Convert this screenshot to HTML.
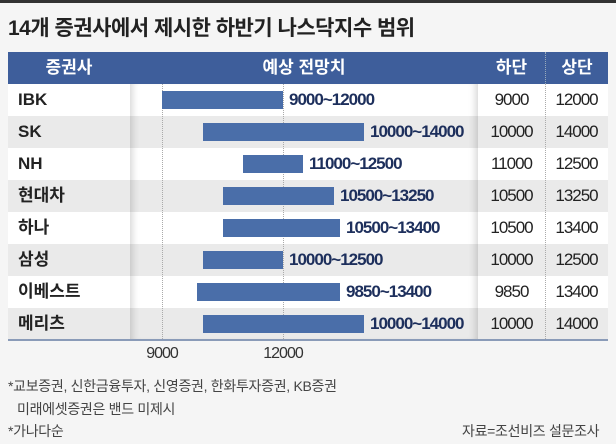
<!DOCTYPE html>
<html><head><meta charset="utf-8"><style>
*{margin:0;padding:0;box-sizing:border-box}
body{width:616px;height:444px;background:#f5f5f5;position:relative;overflow:hidden;font-family:"Liberation Sans","Noto Sans CJK KR",sans-serif;color:#222}
.a{position:absolute}
.title{left:8px;top:12px;font-size:21px;font-weight:bold;color:#222;letter-spacing:-0.5px}
.hdr{left:8px;top:52px;width:600px;height:32px;background:#3e5e9b}
.hdr div{position:absolute;top:0;height:32px;line-height:32px;color:#fff;font-size:17px;font-weight:bold;text-align:center}
.row{left:8px;width:600px;height:32px}
.nm{position:absolute;left:10px;font-size:17px;line-height:32px;font-weight:bold;color:#222}
.v{position:absolute;font-size:17px;line-height:32px;text-align:center;color:#222;letter-spacing:-1px}
.bar{position:absolute;height:18px;background:#4a6ea9}
.lb{position:absolute;font-size:17px;font-weight:bold;color:#1d2f5c;line-height:18px;letter-spacing:-1px}
.panel{left:130px;top:84px;width:348px;height:255px;box-shadow:inset 8px 0 8px -6px rgba(0,0,0,.18),inset -8px 0 8px -6px rgba(0,0,0,.18)}
.foot{font-size:14px;color:#444;letter-spacing:-0.3px}
</style></head><body>
<div class="a" style="left:0;top:0;width:616px;height:3px;background:#333"></div>
<div class="a title">14개 증권사에서 제시한 하반기 나스닥지수 범위</div>
<div class="a hdr">
<div style="left:0;width:122px">증권사</div>
<div style="left:122px;width:348px">예상 전망치</div>
<div style="left:470px;width:67px">하단</div>
<div style="left:537px;width:63px;border-left:1px dotted #9ab">상단</div>
</div>
<div class="a row" style="top:84px;background:#fff"></div>
<div class="a row" style="top:116px;background:#eaeaea"></div>
<div class="a row" style="top:148px;background:#fff"></div>
<div class="a row" style="top:180px;background:#eaeaea"></div>
<div class="a row" style="top:212px;background:#fff"></div>
<div class="a row" style="top:244px;background:#eaeaea"></div>
<div class="a row" style="top:276px;background:#fff"></div>
<div class="a row" style="top:308px;background:#eaeaea;height:31px"></div>
<div class="a panel"></div>
<div class="a" style="left:162px;top:84px;height:255px;border-left:1px dotted #aaa"></div>
<div class="a" style="left:283px;top:84px;height:255px;border-left:1px dotted #aaa"></div>
<div class="a" style="left:545px;top:84px;height:255px;border-left:1px dotted #aaa"></div>
<div class="a" style="left:8px;top:339px;width:600px;height:2px;background:#8a9bb8"></div>

<div class="a" style="left:8px;top:84px;width:600px">
<div style="position:relative;height:32px"><span class="nm">IBK</span><div class="bar" style="left:154px;top:7px;width:121px"></div><span class="lb" style="left:281px;top:7px">9000~12000</span><span class="v" style="left:470px;width:67px">9000</span><span class="v" style="left:537px;width:63px">12000</span></div>
<div style="position:relative;height:32px"><span class="nm">SK</span><div class="bar" style="left:195px;top:7px;width:161px"></div><span class="lb" style="left:362px;top:7px">10000~14000</span><span class="v" style="left:470px;width:67px">10000</span><span class="v" style="left:537px;width:63px">14000</span></div>
<div style="position:relative;height:32px"><span class="nm">NH</span><div class="bar" style="left:235px;top:7px;width:60px"></div><span class="lb" style="left:301px;top:7px">11000~12500</span><span class="v" style="left:470px;width:67px">11000</span><span class="v" style="left:537px;width:63px">12500</span></div>
<div style="position:relative;height:32px"><span class="nm">현대차</span><div class="bar" style="left:215px;top:7px;width:111px"></div><span class="lb" style="left:332px;top:7px">10500~13250</span><span class="v" style="left:470px;width:67px">10500</span><span class="v" style="left:537px;width:63px">13250</span></div>
<div style="position:relative;height:32px"><span class="nm">하나</span><div class="bar" style="left:215px;top:7px;width:117px"></div><span class="lb" style="left:338px;top:7px">10500~13400</span><span class="v" style="left:470px;width:67px">10500</span><span class="v" style="left:537px;width:63px">13400</span></div>
<div style="position:relative;height:32px"><span class="nm">삼성</span><div class="bar" style="left:195px;top:7px;width:80px"></div><span class="lb" style="left:281px;top:7px">10000~12500</span><span class="v" style="left:470px;width:67px">10000</span><span class="v" style="left:537px;width:63px">12500</span></div>
<div style="position:relative;height:32px"><span class="nm">이베스트</span><div class="bar" style="left:189px;top:7px;width:143px"></div><span class="lb" style="left:338px;top:7px">9850~13400</span><span class="v" style="left:470px;width:67px">9850</span><span class="v" style="left:537px;width:63px">13400</span></div>
<div style="position:relative;height:32px"><span class="nm">메리츠</span><div class="bar" style="left:195px;top:7px;width:161px"></div><span class="lb" style="left:362px;top:7px">10000~14000</span><span class="v" style="left:470px;width:67px">10000</span><span class="v" style="left:537px;width:63px">14000</span></div>
</div>

<div class="a" style="left:142px;top:345px;width:40px;text-align:center;font-size:16px;color:#333;letter-spacing:-1px">9000</div>
<div class="a" style="left:258px;top:345px;width:50px;text-align:center;font-size:16px;color:#333;letter-spacing:-1px">12000</div>
<div class="a foot" style="left:8px;top:376px">*교보증권, 신한금융투자, 신영증권, 한화투자증권, KB증권</div>
<div class="a foot" style="left:17px;top:399px">미래에셋증권은 밴드 미제시</div>
<div class="a foot" style="left:8px;top:421px">*가나다순</div>
<div class="a foot" style="left:462px;top:421px">자료=조선비즈 설문조사</div>
</body></html>
